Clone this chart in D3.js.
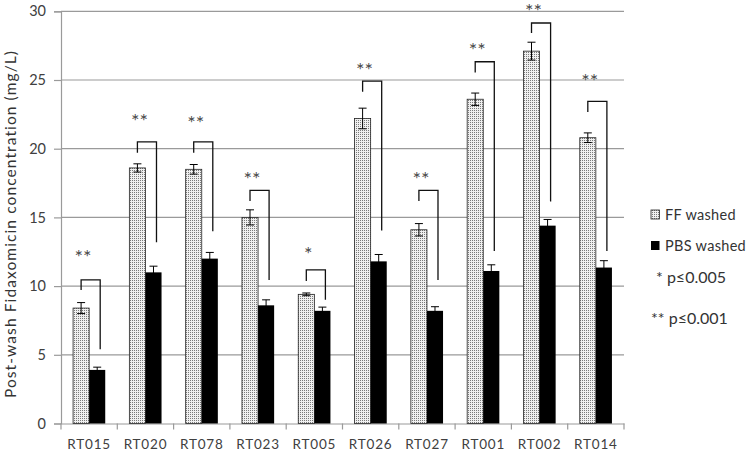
<!DOCTYPE html>
<html><head><meta charset="utf-8">
<script src="https://cdn.jsdelivr.net/npm/d3@7"></script>
<style>
body{margin:0;background:#fff;}
text{font-family:Lato,"Open Sans",sans-serif;}
</style></head>
<body><svg id="c" width="750" height="452"></svg>
<script>
const categories = ["RT015","RT020","RT078","RT023","RT005","RT026","RT027","RT001","RT002","RT014"];
const ffValues  = [8.4, 18.6, 18.5, 15.0, 9.4, 22.2, 14.1, 23.6, 27.1, 20.8];
const ffErrors  = [0.4, 0.3, 0.35, 0.55, 0.1, 0.75, 0.45, 0.45, 0.65, 0.35];
const pbsValues = [3.9, 11.0, 12.0, 8.6, 8.2, 11.8, 8.2, 11.1, 14.4, 11.35];
const pbsErrors = [0.2, 0.45, 0.45, 0.4, 0.27, 0.5, 0.3, 0.45, 0.45, 0.5];
// significance bracket: top level, left leg end, right leg end, star level, label
const bracketTop   = [10.45, 20.5, 20.5, 16.96, 11.18, 24.92, 16.96, 26.33, 29.15, 23.44];
const bracketLeft  = [9.72, 19.7, 19.7, 16.2, 10.38, 24.14, 16.2, 25.55, 28.42, 22.67];
const bracketRight = [5.4, 13.2, 14.0, 10.45, 9.0, 14.04, 10.45, 12.56, 16.15, 12.56];
const starLevel    = [12.4, 22.3, 22.15, 18.1, 12.6, 26.0, 18.1, 27.44, 30.3, 25.2];
const starLabels   = ["**","**","**","**","*","**","**","**","**","**"];
const yTicks = [0,5,10,15,20,25,30];
const seriesNames = ["FF washed","PBS washed"];
const noteLabels = ["* p\u22640.005","** p\u22640.001"];

const svg = d3.select("#c");
const defs = svg.append("defs");
const pat = defs.append("pattern").attr("id","dots").attr("patternUnits","userSpaceOnUse")
  .attr("width",2).attr("height",2);
pat.append("rect").attr("width",2).attr("height",2).attr("fill","#f0f0f0");
pat.append("rect").attr("width",1).attr("height",1).attr("fill","#7a7a7a");

const L=61, R=624, T=11.3, B=423.5;
const x = d3.scaleBand().domain(categories).range([L,R]).paddingInner(0).paddingOuter(0);
const y = d3.scaleLinear().domain([0,30]).range([B,T]);
const bw = x.bandwidth()/3.5;
const off = (x.bandwidth()-2*bw)/2;

// gridlines
svg.append("g").selectAll("line").data(yTicks.filter(d=>d>0)).join("line")
  .attr("x1",L).attr("x2",R).attr("y1",d=>y(d)).attr("y2",d=>y(d))
  .attr("stroke","#9a9a9a").attr("stroke-width",1.2);

// y axis
const ya = svg.append("g").attr("transform",`translate(${L},0)`)
  .call(d3.axisLeft(y).tickValues(yTicks).tickSize(7).tickPadding(8));
ya.select(".domain").attr("stroke","#9a9a9a").attr("stroke-width",1.2);
ya.selectAll(".tick line").attr("stroke","#9a9a9a").attr("stroke-width",1.2);
ya.selectAll("text").attr("font-size",14.5).attr("fill","#404040").attr("font-family","Lato");

// x axis
const xa = svg.append("g").attr("transform",`translate(0,${B})`)
  .call(d3.axisBottom(x).tickSize(0).tickPadding(16));
xa.select(".domain").attr("stroke","#9a9a9a").attr("stroke-width",1.2);
xa.selectAll("text").attr("font-size",13.5).attr("fill","#404040").attr("font-family","Lato").attr("letter-spacing","0.8px");
svg.append("g").selectAll("line").data(d3.range(categories.length+1)).join("line")
  .attr("x1",i=>L+i*x.bandwidth()).attr("x2",i=>L+i*x.bandwidth())
  .attr("y1",B).attr("y2",B+6).attr("stroke","#9a9a9a").attr("stroke-width",1.2);

// bars
const g = svg.append("g");
categories.forEach((c,i)=>{
  const x0 = x(c)+off, x1 = x0+bw;
  g.append("rect").attr("x",x0).attr("y",y(ffValues[i])).attr("width",bw).attr("height",B-y(ffValues[i]))
    .attr("fill","url(#dots)").attr("stroke","#222").attr("stroke-width",0.8);
  g.append("rect").attr("x",x1).attr("y",y(pbsValues[i])).attr("width",bw).attr("height",B-y(pbsValues[i]))
    .attr("fill","#000");
  const eb = (cx,v,e)=>{
    g.append("line").attr("x1",cx).attr("x2",cx).attr("y1",y(v+e)).attr("y2",y(v-e)).attr("stroke","#000").attr("stroke-width",1);
    [v+e,v-e].forEach(t=>g.append("line").attr("x1",cx-4).attr("x2",cx+4).attr("y1",y(t)).attr("y2",y(t)).attr("stroke","#000").attr("stroke-width",1));
  };
  eb(x0+bw/2, ffValues[i], ffErrors[i]);
  eb(x1+bw/2, pbsValues[i], pbsErrors[i]);
  // bracket
  const lx = x0+bw/2, rx = x1+bw/2+3;
  g.append("path").attr("d",`M${lx},${y(bracketLeft[i])}V${y(bracketTop[i])}H${rx}V${y(bracketRight[i])}`)
    .attr("fill","none").attr("stroke","#111").attr("stroke-width",1.3);
  g.append("text").attr("x",lx+2).attr("y",y(starLevel[i])+11).attr("text-anchor","middle")
    .attr("font-size",20).attr("fill","#4a4a4a").attr("font-family","DejaVu Sans").attr("letter-spacing","0px")
    .text(starLabels[i]);
});

// y label
svg.append("text").attr("transform","translate(16,224) rotate(-90)").attr("text-anchor","middle")
  .attr("font-size",15.5).attr("fill","#333").attr("font-family","Lato").attr("letter-spacing","1.1px")
  .text("Post-wash Fidaxomicin concentration (mg/L)");

// legend
const lg = svg.append("g");
const lgY = [215, 246];
seriesNames.forEach((s,i)=>{
  lg.append("rect").attr("x",651).attr("y",lgY[i]-5).attr("width",8.5).attr("height",9)
    .attr("fill",i===0?"url(#dots)":"#000").attr("stroke",i===0?"#222":"none").attr("stroke-width",0.8);
  lg.append("text").attr("x",665).attr("y",lgY[i]+5).attr("font-size",14.5).attr("fill","#333").attr("letter-spacing","0.3px").text(s);
});
lg.append("text").attr("x",656).attr("y",283).attr("font-size",16).attr("fill","#333").text(noteLabels[0]);
lg.append("text").attr("x",651).attr("y",324).attr("font-size",16).attr("fill","#333").text(noteLabels[1]);
</script></body></html>
